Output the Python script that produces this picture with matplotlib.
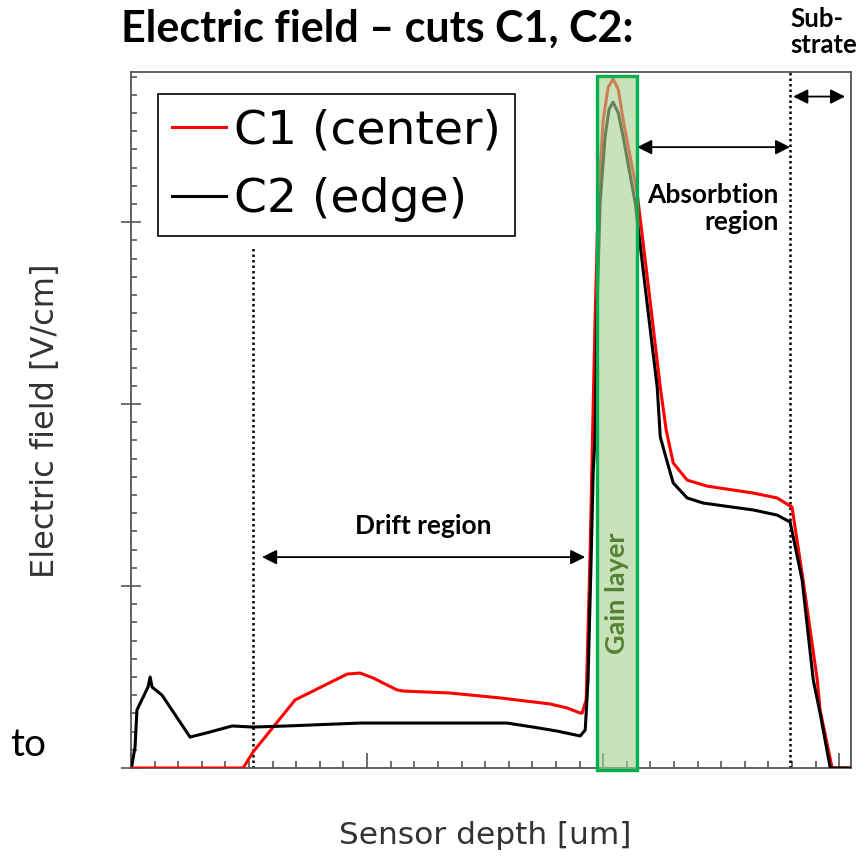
import matplotlib.pyplot as plt
from matplotlib.patches import Rectangle
from matplotlib.ticker import MultipleLocator, NullFormatter

# depth in arbitrary units (minor tick = 1), field in arbitrary units (minor tick = 1)
c1_x = [0.0, 4.75, 5.17, 6.95, 9.15, 9.70, 10.25, 11.27, 11.53, 13.52, 15.64, 17.75,
        18.47, 19.03, 19.11, 19.28, 19.45, 19.58, 19.66, 19.79, 20.0, 20.21, 20.42,
        20.64, 20.85, 21.44, 22.0, 22.42, 22.67, 22.97, 23.56, 24.41, 26.36, 27.37,
        28.0, 28.47, 29.07, 29.19, 29.70, 30.5]
c1_y = [0.0, 0.0, 0.88, 3.74, 5.16, 5.22, 4.95, 4.29, 4.23, 4.12, 3.85, 3.52,
        3.30, 3.02, 3.02, 3.74, 11.98, 20.05, 24.78, 31.04, 35.6, 37.4, 37.86,
        37.3, 35.6, 31.59, 25.55, 20.93, 18.57, 16.76, 15.82, 15.49, 15.11, 14.84,
        14.34, 10.33, 4.84, 3.19, 0.0, 0.0]

c2_x = [0.04, 0.17, 0.25, 0.72, 0.81, 0.89, 1.31, 2.50, 3.35, 4.28, 5.17, 6.61,
        9.70, 15.93, 17.03, 18.05, 19.03, 19.24, 19.36, 19.49, 19.58, 19.66, 19.75,
        19.87, 20.08, 20.25, 20.42, 20.64, 20.85, 21.36, 21.86, 22.29, 22.42, 22.75,
        22.97, 23.56, 24.24, 26.36, 27.37, 27.92, 28.43, 28.90, 29.19, 29.62, 30.5]
c2_y = [0.16, 1.15, 3.19, 4.45, 5.0, 4.45, 4.01, 1.70, 1.98, 2.31, 2.25, 2.31,
        2.47, 2.47, 2.25, 2.03, 1.76, 2.09, 4.84, 11.43, 16.37, 18.19, 25.55,
        31.04, 34.67, 36.2, 36.59, 36.0, 34.67, 31.04, 25.55, 20.93, 18.19, 16.65,
        15.66, 14.84, 14.56, 14.18, 13.90, 13.52, 10.33, 4.84, 3.02, 0.0, 0.0]

labels = ["C1 (center)", "C2 (edge)"]
gain_layer = (19.75, 21.44)
drift_span = (5.55, 19.24)
absorb_span = (21.44, 27.92)
substrate_span = (28.05, 30.25)
boundaries = [5.17, 27.92]

fig = plt.figure(figsize=(8.66, 8.56), dpi=100)
ax = fig.add_axes([0.1513, 0.1028, 0.8314, 0.8131])

ax.plot(c1_x, c1_y, color="#ff0000", lw=2.2, label=labels[0], zorder=3)
ax.plot(c2_x, c2_y, color="black", lw=2.2, label=labels[1], zorder=3)

ax.set_xlim(0, 30.5)
ax.set_ylim(0, 38.25)

# dotted boundaries
ax.plot([boundaries[0], boundaries[0]], [0, 28.7], ls=(0, (1, 1.2)), color="black", lw=1.8, zorder=2)
ax.plot([boundaries[1], boundaries[1]], [0, 38.25], ls=(0, (1, 1.2)), color="black", lw=1.8, zorder=2)

# gain layer box
rect = Rectangle((gain_layer[0], -0.12), gain_layer[1] - gain_layer[0], 38.15,
                 facecolor=(0.66, 0.82, 0.56, 0.62), edgecolor="#00b050", lw=2.4,
                 zorder=4, clip_on=False)
ax.add_patch(rect)
ax.text(sum(gain_layer) / 2, 9.6, "Gain layer", rotation=90, ha="center", va="center",
        color="#548235", fontsize=19.5, fontweight="bold", family="Lato", zorder=5)

# region arrows
arrow = dict(arrowstyle="<|-|>", color="black", lw=1.3, mutation_scale=22, shrinkA=0, shrinkB=0)
ax.annotate("", xy=(drift_span[0], 11.59), xytext=(drift_span[1], 11.59), arrowprops=arrow)
ax.annotate("", xy=(absorb_span[0], 34.12), xytext=(absorb_span[1], 34.12), arrowprops=arrow)
ax.annotate("", xy=(substrate_span[0], 36.9), xytext=(substrate_span[1], 36.9),
            arrowprops=arrow, annotation_clip=False)

ax.text(12.37, 13.3, "Drift region", ha="center", va="center", fontsize=19,
        fontweight="bold", family="Lato")
ax.text(27.42, 30.75, "Absorbtion\nregion", ha="right", va="center", fontsize=19,
        fontweight="bold", family="Lato", linespacing=1.15)
ax.text(27.95, 40.45, "Sub-\nstrate", ha="left", va="center", fontsize=18.5,
        fontweight="bold", family="Lato", linespacing=1.1, clip_on=False)

# ticks
ax.xaxis.set_major_locator(MultipleLocator(10))
ax.xaxis.set_minor_locator(MultipleLocator(1))
ax.yaxis.set_major_locator(MultipleLocator(10))
ax.yaxis.set_minor_locator(MultipleLocator(1))
ax.xaxis.set_major_formatter(NullFormatter())
ax.yaxis.set_major_formatter(NullFormatter())
ax.tick_params(axis="x", which="major", direction="in", length=11, width=1.2, color="#555555",
               top=False)
ax.tick_params(axis="x", which="minor", direction="in", length=5, width=1.2, color="#555555",
               top=False)
ax.tick_params(axis="y", which="major", direction="inout", length=14, width=1.2, color="#555555",
               right=False)
ax.tick_params(axis="y", which="minor", direction="in", length=4, width=1.2, color="#555555",
               right=False)
for sp in ax.spines.values():
    sp.set_color("#555555")
    sp.set_linewidth(1.3)

leg = ax.legend(loc="upper left", bbox_to_anchor=(0.0375, 0.968), fontsize=34,
                handlelength=1.15, handletextpad=0.15, borderpad=0.3, labelspacing=0.5,
                borderaxespad=0, fancybox=False, framealpha=1, edgecolor="black")
leg.get_frame().set_linewidth(1.2)

fig.text(0.436, 0.967, "Electric field \u2013 cuts C1, C2:", ha="center", va="center",
         fontsize=31, fontweight="bold", family="Lato")
fig.text(0.052, 0.509, "Electric field [V/cm]", rotation=90, ha="center", va="center",
         fontsize=23, color="#333333")
fig.text(0.56, 0.0245, "Sensor depth [um]", ha="center", va="center",
         fontsize=22.5, color="#333333")
fig.text(0.012, 0.13, "to", ha="left", va="center", fontsize=28, family="Lato")

fig.savefig("out.png", dpi=100)
